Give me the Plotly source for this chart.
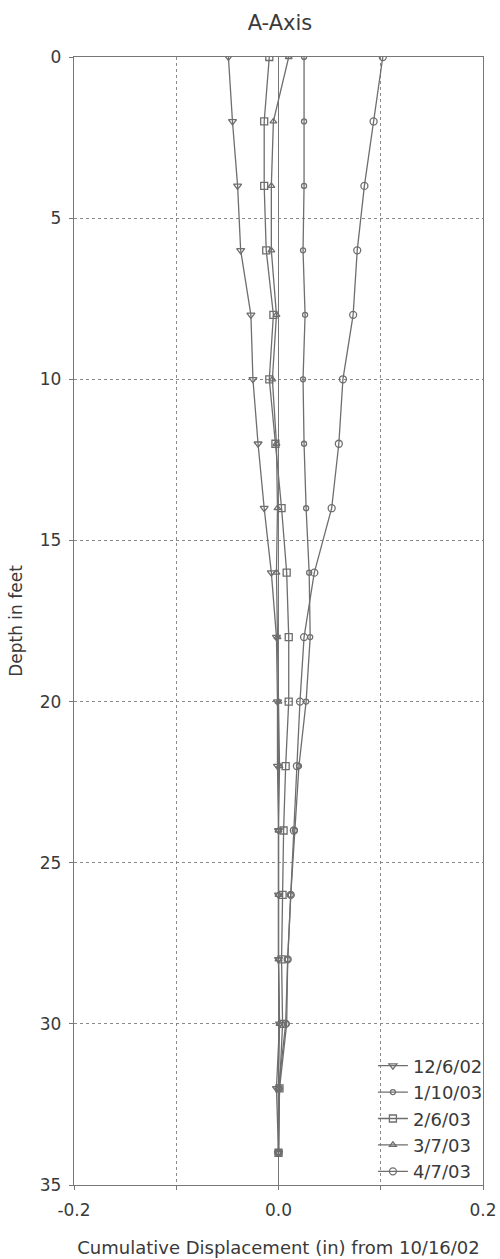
import plotly.graph_objects as go

depth = [0, 2, 4, 6, 8, 10, 12, 14, 16, 18, 20, 22, 24, 26, 28, 30, 32, 34]

d_120602 = [-0.049, -0.045, -0.040, -0.037, -0.027, -0.025, -0.020, -0.014, -0.007,
            -0.002, -0.001, -0.001, 0.000, 0.000, 0.000, 0.001, -0.002, 0.000]
d_011003 = [0.025, 0.025, 0.025, 0.024, 0.026, 0.024, 0.025, 0.027, 0.030,
            0.031, 0.027, 0.020, 0.016, 0.012, 0.009, 0.008, 0.001, 0.000]
d_020603 = [-0.009, -0.014, -0.014, -0.012, -0.005, -0.009, -0.003, 0.003, 0.008,
            0.010, 0.010, 0.007, 0.005, 0.004, 0.003, 0.004, 0.001, 0.000]
d_030703 = [0.010, -0.005, -0.007, -0.007, -0.002, -0.006, -0.002, -0.001, -0.002,
            -0.001, 0.000, 0.001, 0.000, 0.000, 0.000, 0.001, 0.000, 0.000]
d_040703 = [0.102, 0.093, 0.084, 0.077, 0.073, 0.063, 0.059, 0.052, 0.035,
            0.025, 0.021, 0.018, 0.015, 0.012, 0.009, 0.007, 0.000, 0.000]

series = [
    ("12/6/02", d_120602, "triangle-down-open", 7),
    ("1/10/03", d_011003, "circle-open", 5),
    ("2/6/03", d_020603, "square-open", 7),
    ("3/7/03", d_030703, "triangle-up-open", 6),
    ("4/7/03", d_040703, "circle-open", 7),
]

line_color = "#6e6e6e"
fig = go.Figure()
for name, vals, sym, sz in series:
    fig.add_trace(go.Scatter(
        x=vals, y=depth, name=name, mode="lines+markers",
        line=dict(color=line_color, width=1.3),
        marker=dict(symbol=sym, size=sz, color=line_color,
                    line=dict(color=line_color, width=1.3)),
    ))

font_family = "DejaVu Sans, sans-serif"
text_color = "#3a3a3a"
fig.update_layout(
    width=500, height=1259,
    paper_bgcolor="white", plot_bgcolor="white",
    margin=dict(l=74, r=17, t=57, b=74, autoexpand=False),
    title=dict(text="A-Axis", x=0.56, xanchor="center", y=0.982, yanchor="middle",
               font=dict(size=21, color=text_color, family=font_family), automargin=False),
    font=dict(family=font_family, color=text_color, size=17),
    legend=dict(x=1.012, y=-0.004, xanchor="right", yanchor="bottom",
                bgcolor="rgba(0,0,0,0)", font=dict(size=18, color=text_color),
                tracegroupgap=0, itemwidth=30),
    showlegend=True,
)
fig.update_xaxes(
    range=[-0.2, 0.2], tickvals=[-0.2, -0.1, 0.0, 0.1, 0.2],
    ticktext=["-0.2", "", "0.0", "", "0.2"], automargin=False,
    showgrid=True, gridcolor="#8a8a8a", griddash="dot", gridwidth=1,
    zeroline=True, zerolinecolor="#777", zerolinewidth=1.3,
    showline=True, linecolor="#777", linewidth=1.3, mirror=True,
    ticks="outside", ticklen=4, tickcolor="#777", ticklabelstandoff=5,
    title=dict(text="Cumulative Displacement (in) from 10/16/02",
               font=dict(size=18, color=text_color), standoff=22),
    tickfont=dict(size=17, color=text_color),
)
fig.update_yaxes(
    range=[35, 0], tickvals=[0, 5, 10, 15, 20, 25, 30, 35], automargin=False,
    showgrid=True, gridcolor="#8a8a8a", griddash="dot", gridwidth=1,
    zeroline=False,
    showline=True, linecolor="#777", linewidth=1.3, mirror=True,
    ticks="outside", ticklen=4, tickcolor="#777", ticklabelstandoff=4,
    title=dict(text="Depth in feet", font=dict(size=17, color=text_color), standoff=12),
    tickfont=dict(size=17, color=text_color),
)

fig.write_html("out.html", config={"displayModeBar": False},
               post_script="document.body.style.margin='0';document.body.style.overflow='hidden';")
